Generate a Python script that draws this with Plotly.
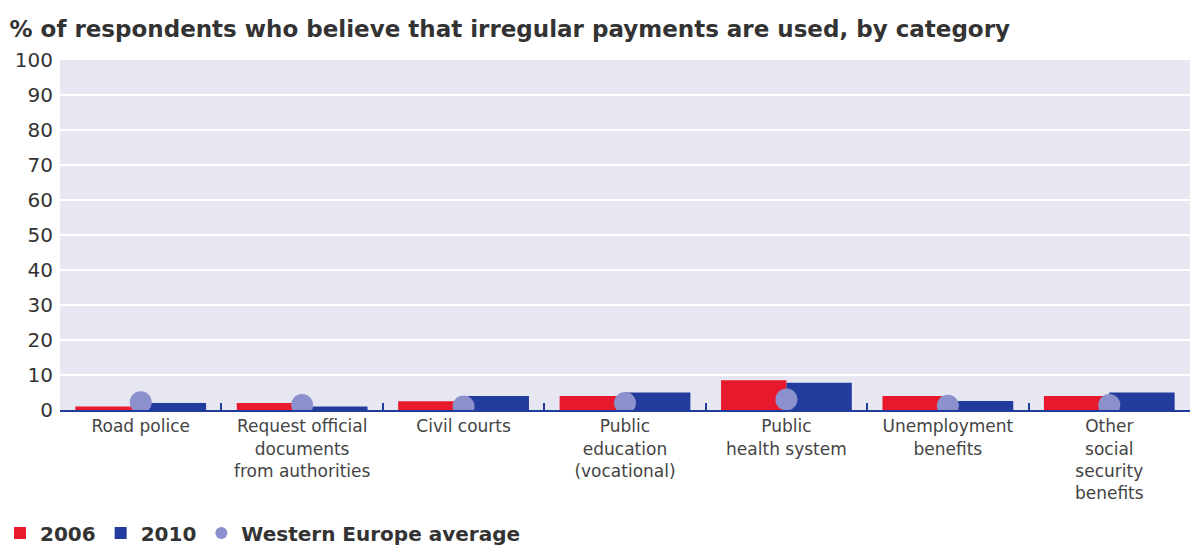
import plotly.graph_objects as go

categories = [
    "Road police",
    "Request official<br>documents<br>from authorities",
    "Civil courts",
    "Public<br>education<br>(vocational)",
    "Public<br>health system",
    "Unemployment<br>benefits",
    "Other<br>social<br>security<br>benefits",
]
values_2006 = [1, 2, 2.5, 4, 8.5, 4, 4]
values_2010 = [2, 1, 4, 5, 7.8, 2.6, 5]
western_europe_avg = [2.2, 1.4, 1, 2, 3, 1.2, 1.4]
y_ticks = [0, 10, 20, 30, 40, 50, 60, 70, 80, 90, 100]

RED = "#e8192c"
BLUE = "#213c9c"
DOT = "#8c90cc"
FONT = "DejaVu Sans"

fig = go.Figure()
fig.add_trace(go.Bar(name="2006", x=categories, y=values_2006, marker_color=RED,
                     marker_line_width=0))
fig.add_trace(go.Bar(name="2010", x=categories, y=values_2010, marker_color=BLUE,
                     marker_line_width=0))
fig.add_trace(go.Scatter(name="Western Europe average", x=categories, y=western_europe_avg,
                         mode="markers", marker=dict(color=DOT, size=22)))

fig.update_layout(
    width=1195, height=545,
    barmode="group", bargap=0.19, bargroupgap=0,
    paper_bgcolor="white", plot_bgcolor="#e7e7f1",
    margin=dict(l=60, r=5, t=60, b=135),
    title=dict(text="<b>% of respondents who believe that irregular payments are used, by category</b>",
               x=0.008, xanchor="left", y=0.947, yanchor="middle",
               font=dict(family=FONT, size=23, color="#333333")),
    font=dict(family=FONT, color="#444444"),
    showlegend=True,
    legend=dict(orientation="h", xref="container", x=0.0, xanchor="left",
                yref="container", y=0.022, yanchor="middle",
                font=dict(family=FONT, size=20, color="#333333", weight="bold"),
                itemsizing="constant", itemwidth=30, tracegroupgap=0),
)
fig.update_yaxes(range=[0, 100], tickvals=y_ticks, showgrid=True, gridcolor="white",
                 gridwidth=2, zeroline=False, tickfont=dict(size=20, color="#333333"),
                 ticks="", ticklabelstandoff=6)
fig.update_xaxes(showline=True, linecolor=BLUE, linewidth=2, tickson="boundaries",
                 ticks="inside", tickcolor=BLUE, ticklen=7, tickwidth=2,
                 tickfont=dict(size=17, color="#444444"), showgrid=False, tickangle=0)

fig.write_html("out.html")
